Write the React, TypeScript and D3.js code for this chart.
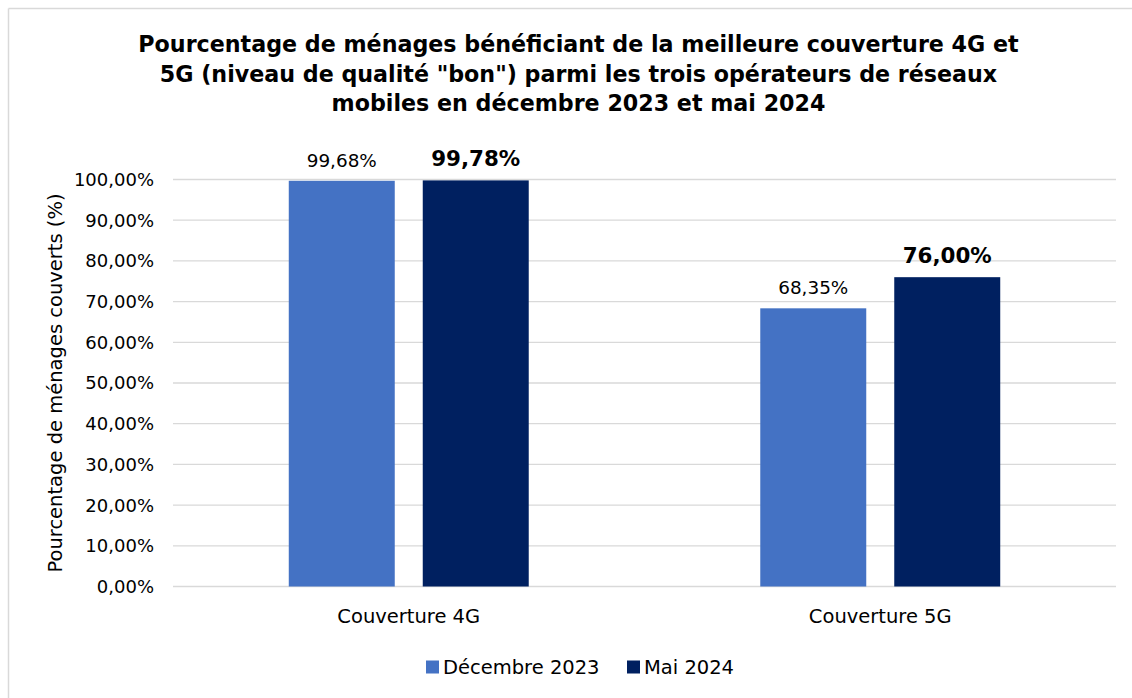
import React from "react";
import * as d3 from "d3";

const titleLines = [
  "Pourcentage de ménages bénéficiant de la meilleure couverture 4G et",
  '5G (niveau de qualité "bon") parmi les trois opérateurs de réseaux',
  "mobiles en décembre 2023 et mai 2024",
];
const categories = ["Couverture 4G", "Couverture 5G"];
const seriesNames = ["Décembre 2023", "Mai 2024"];
const decembre2023 = [99.68, 68.35];
const mai2024 = [99.78, 76.0];
const yTicks = [0, 10, 20, 30, 40, 50, 60, 70, 80, 90, 100];
const yAxisTitle = "Pourcentage de ménages couverts (%)";
const colors = ["#4472C4", "#002060"];

const W = 1132;
const H = 698;
const FONT = "'DejaVu Sans', Verdana, sans-serif";

const fmt = (v: number) => v.toFixed(2).replace(".", ",") + "%";

export default function App() {
  const left = 173;
  const right = 1116;
  const top = 179.5;
  const bottom = 586.5;
  const y = d3.scaleLinear().domain([0, 100]).range([bottom, top]);
  const x0 = d3.scaleBand<string>().domain(categories).range([left, right]).padding(0);
  const x1 = d3
    .scaleBand<string>()
    .domain(seriesNames)
    .range([0, x0.bandwidth()])
    .paddingInner(0.209)
    .paddingOuter(0.864);
  const series = [decembre2023, mai2024];

  return (
    <svg
      width={W}
      height={H}
      style={{ display: "block", position: "absolute", left: 0, top: 0 }}
    >
      <rect x={0} y={0} width={W} height={H} fill="#ffffff" />
      <line x1={8.5} y1={8.5} x2={W} y2={8.5} stroke="#d9d9d9" strokeWidth={1.5} />
      <line x1={8.5} y1={8.5} x2={8.5} y2={H} stroke="#d9d9d9" strokeWidth={1.5} />
      {titleLines.map((t, i) => (
        <text
          key={i}
          x={578.5}
          y={52 + i * 29.5}
          textAnchor="middle"
          fontFamily={FONT}
          fontWeight="bold"
          fontSize={22.2}
          fill="#000"
        >
          {t}
        </text>
      ))}
      {yTicks.map((t) => (
        <g key={t}>
          <line x1={left} x2={right} y1={y(t)} y2={y(t)} stroke="#d9d9d9" strokeWidth={1.3} />
          <text
            x={154}
            y={y(t)}
            dy="0.36em"
            textAnchor="end"
            fontFamily={FONT}
            fontSize={18}
            fill="#000"
          >
            {fmt(t)}
          </text>
        </g>
      ))}
      <text
        transform={`translate(62,${(top + bottom) / 2}) rotate(-90)`}
        textAnchor="middle"
        fontFamily={FONT}
        fontSize={19.5}
        fill="#000"
      >
        {yAxisTitle}
      </text>
      {categories.map((c, ci) => (
        <g key={c} transform={`translate(${x0(c)},0)`}>
          {seriesNames.map((s, si) => {
            const v = series[si][ci];
            const bx = x1(s)!;
            const bw = x1.bandwidth();
            const bold = si === 1;
            return (
              <g key={s}>
                <rect x={bx} y={y(v)} width={bw} height={bottom - y(v)} fill={colors[si]} />
                <text
                  x={bx + bw / 2}
                  y={y(v) - 14}
                  textAnchor="middle"
                  fontFamily={FONT}
                  fontSize={bold ? 21.4 : 18.4}
                  fontWeight={bold ? "bold" : "normal"}
                  fill="#000"
                >
                  {fmt(v)}
                </text>
              </g>
            );
          })}
          <text
            x={x0.bandwidth() / 2}
            y={616}
            dy="0.36em"
            textAnchor="middle"
            fontFamily={FONT}
            fontSize={19.5}
            fill="#000"
          >
            {c}
          </text>
        </g>
      ))}
      {seriesNames.map((s, i) => {
        const lx = [426, 627][i];
        return (
          <g key={s}>
            <rect x={lx} y={660.5} width={13} height={13} fill={colors[i]} />
            <text
              x={lx + 17}
              y={667}
              dy="0.36em"
              fontFamily={FONT}
              fontSize={19.5}
              fill="#000"
            >
              {s}
            </text>
          </g>
        );
      })}
    </svg>
  );
}
